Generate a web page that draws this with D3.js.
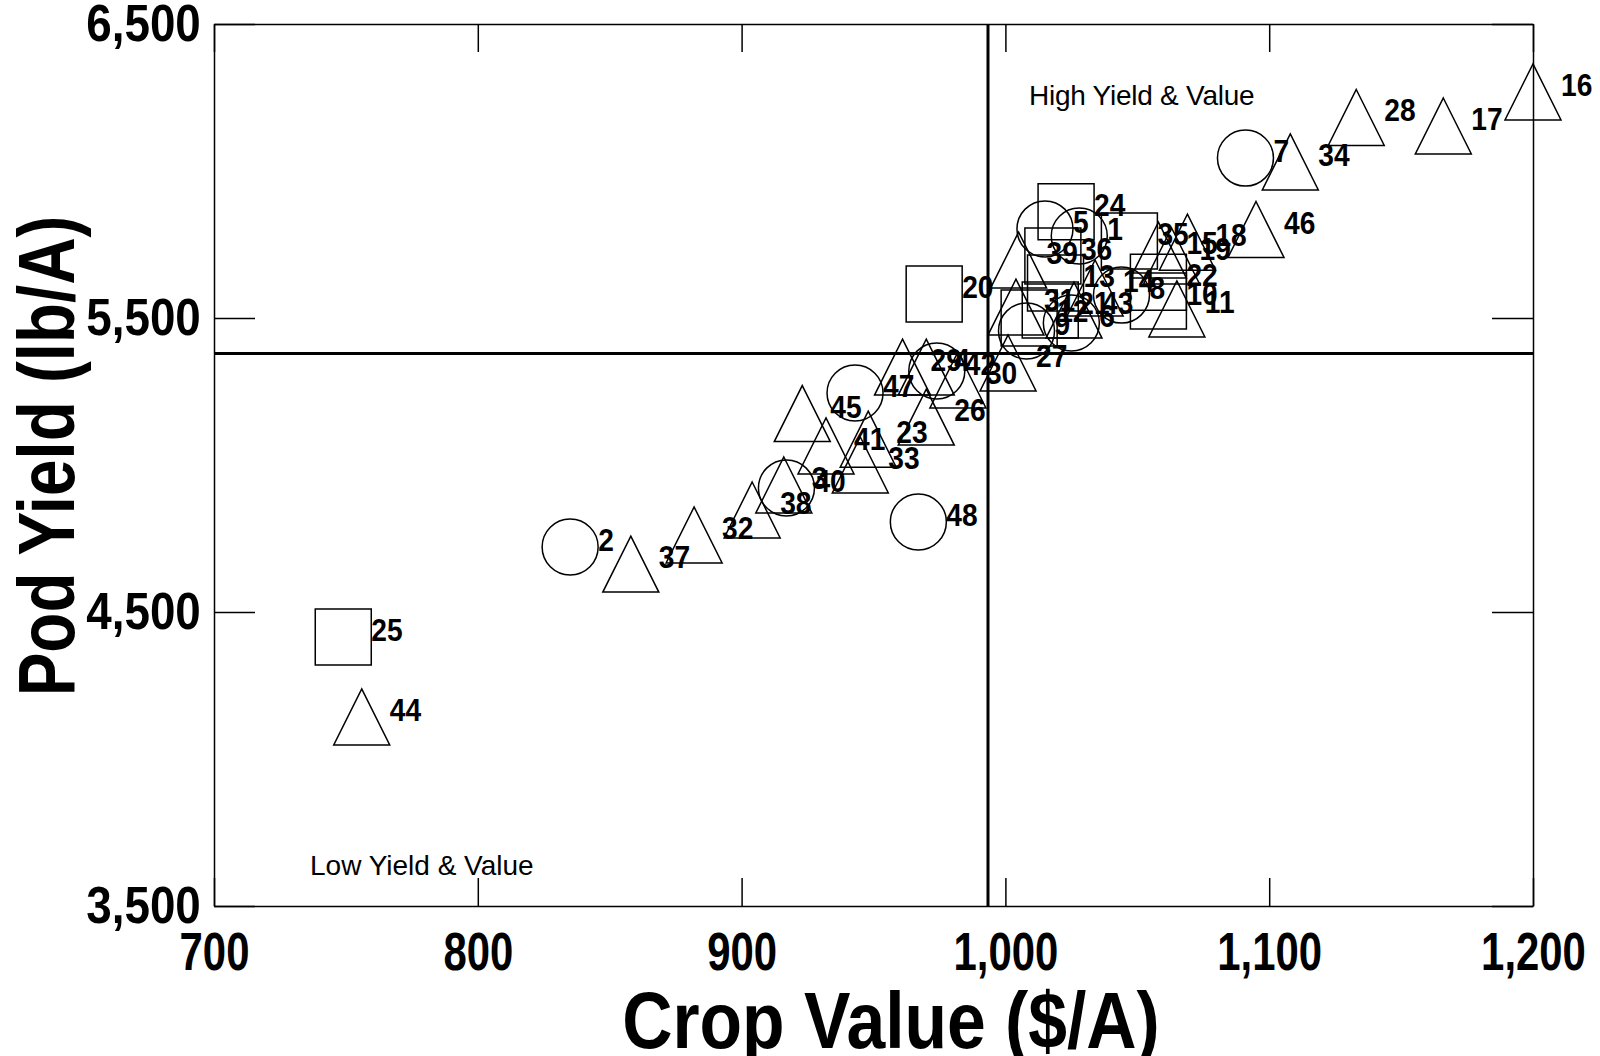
<!DOCTYPE html>
<html>
<head>
<meta charset="utf-8">
<script src="https://cdn.jsdelivr.net/npm/d3@7"></script>
<style>
  body { margin: 0; background: #fff; }
  svg { display: block; font-family: "Liberation Sans", Arial, sans-serif; }
</style>
</head>
<body>
<div class="chart"></div>
<script>
// entries, crop value ($/A), pod yield (lb/A), marker type
const entries = [1, 2, 3, 4, 5, 6, 7, 8, 9, 10, 11, 12, 13, 14, 15, 16, 17, 18, 19, 20, 21, 22, 23, 24,
  25, 26, 27, 28, 29, 30, 31, 32, 33, 34, 35, 36, 37, 38, 39, 40, 41, 42, 43, 44, 45, 46, 47, 48];
const cropValue = [1028, 835, 916, 970, 1015, 1025, 1091, 1044, 1008, 1058, 1065, 1009, 1019, 1034, 1058, 1200,
  1166, 1069, 1063, 973, 1017, 1058, 948, 1023, 749, 970, 1001, 1133, 961, 982, 1004, 882,
  945, 1108, 1047, 1018, 858, 904, 1005, 917, 932, 974, 1026, 756, 923, 1095, 943, 967];
const podYield = [5779, 4721, 4932, 5333, 5803, 5483, 6044, 5578, 5456, 5558, 5531, 5500, 5619, 5602, 5731, 6269,
  6153, 5758, 5711, 5582, 5527, 5622, 5088, 5861, 4415, 5163, 5347, 6182, 5333, 5289, 5537, 4762,
  5000, 6031, 5762, 5711, 4663, 4847, 5697, 4922, 5065, 5320, 5527, 4143, 5175, 5801, 5245, 4806];
const markerType = ['circle', 'circle', 'triangle', 'triangle', 'circle', 'circle', 'circle', 'circle', 'circle', 'square',
  'triangle', 'square', 'square', 'triangle', 'triangle', 'triangle', 'triangle', 'triangle', 'triangle', 'square',
  'square', 'square', 'triangle', 'square', 'square', 'triangle', 'triangle', 'triangle', 'triangle', 'triangle',
  'triangle', 'triangle', 'triangle', 'triangle', 'square', 'square', 'triangle', 'triangle', 'triangle', 'circle',
  'triangle', 'circle', 'triangle', 'triangle', 'triangle', 'triangle', 'circle', 'circle'];

const xTicks = [700, 800, 900, 1000, 1100, 1200];
const yTicks = [3500, 4500, 5500, 6500];
const meanValue = 993.4;
const meanYield = 5379;
const quadrantLabels = ['High Yield & Value', 'Low Yield & Value'];

const w = 1600;
const h = 1056;
const plot = { left: 214, right: 1533, top: 24, bottom: 906 };

const data = entries.map((e, i) => ({
  entry: e, value: cropValue[i], yield: podYield[i], type: markerType[i]
}));

const xScale = d3.scaleLinear().domain([700, 1200]).range([plot.left, plot.right]);
const yScale = d3.scaleLinear().domain([3500, 6500]).range([plot.bottom, plot.top]);

const svg = d3.select('.chart')
  .append('svg')
  .attr('width', w)
  .attr('height', h);

// axes, ticks point inward on every side
const fmt = d3.format(',');
svg.append('g')
  .attr('class', 'x-axis')
  .attr('transform', `translate(0, ${plot.bottom})`)
  .call(d3.axisBottom(xScale).tickValues(xTicks).tickFormat(fmt)
    .tickSizeInner(-28).tickSizeOuter(0).tickPadding(26));
svg.append('g')
  .attr('class', 'x-axis-top')
  .attr('transform', `translate(0, ${plot.top})`)
  .call(d3.axisTop(xScale).tickValues(xTicks).tickFormat('')
    .tickSizeInner(-28).tickSizeOuter(0));
svg.append('g')
  .attr('class', 'y-axis')
  .attr('transform', `translate(${plot.left}, 0)`)
  .call(d3.axisLeft(yScale).tickValues(yTicks).tickFormat(fmt)
    .tickSizeInner(-41).tickSizeOuter(0).tickPadding(15));
svg.append('g')
  .attr('class', 'y-axis-right')
  .attr('transform', `translate(${plot.right}, 0)`)
  .call(d3.axisRight(yScale).tickValues(yTicks).tickFormat('')
    .tickSizeInner(-41).tickSizeOuter(0));

svg.selectAll('.domain, .tick line')
  .attr('stroke', '#000')
  .attr('stroke-width', 1.5);

svg.selectAll('.x-axis text')
  .attr('font-family', '"Liberation Sans", Arial, sans-serif')
  .attr('font-size', 53)
  .attr('font-weight', 'bold')
  .attr('fill', '#000')
  .attr('transform', 'scale(0.79,1)');
svg.selectAll('.y-axis text')
  .attr('font-family', '"Liberation Sans", Arial, sans-serif')
  .attr('font-size', 52)
  .attr('font-weight', 'bold')
  .attr('fill', '#000')
  .attr('transform', 'scale(0.88,1)');

// mean reference lines
svg.append('line')
  .attr('x1', xScale(meanValue)).attr('x2', xScale(meanValue))
  .attr('y1', plot.top).attr('y2', plot.bottom)
  .attr('stroke', '#000').attr('stroke-width', 3);
svg.append('line')
  .attr('x1', plot.left).attr('x2', plot.right)
  .attr('y1', yScale(meanYield)).attr('y2', yScale(meanYield))
  .attr('stroke', '#000').attr('stroke-width', 3);

// open markers
const shapes = {
  circle: { draw(c, s) { const r = Math.sqrt(s) / 2; c.moveTo(r, 0); c.arc(0, 0, r, 0, 2 * Math.PI); } },
  square: { draw(c, s) { const r = Math.sqrt(s) / 2; c.rect(-r, -r, 2 * r, 2 * r); } },
  triangle: { draw(c, s) { const r = Math.sqrt(s) / 2; c.moveTo(0, -r); c.lineTo(r, r); c.lineTo(-r, r); c.closePath(); } }
};
const symbolSize = 56 * 56;

svg.append('g')
  .selectAll('path')
  .data(data)
  .join('path')
  .attr('transform', (d) => `translate(${xScale(d.value)}, ${yScale(d.yield)})`)
  .attr('d', (d) => d3.symbol().type(shapes[d.type]).size(symbolSize)())
  .attr('fill', 'none')
  .attr('stroke', '#000')
  .attr('stroke-width', 1.5);

svg.append('g')
  .selectAll('text')
  .data(data)
  .join('text')
  .attr('transform', (d) => `translate(${xScale(d.value) + 28}, ${yScale(d.yield) + 4}) scale(0.88,1)`)
  .attr('font-size', 32)
  .attr('font-weight', 'bold')
  .text((d) => d.entry);

// quadrant notes
svg.append('text')
  .attr('x', 1029).attr('y', 105)
  .attr('font-size', 28)
  .attr('letter-spacing', -0.25)
  .text(quadrantLabels[0]);
svg.append('text')
  .attr('x', 310).attr('y', 875)
  .attr('font-size', 28)
  .text(quadrantLabels[1]);

// axis titles
svg.append('text')
  .attr('transform', 'translate(891, 1048) scale(0.87,1)')
  .attr('text-anchor', 'middle')
  .attr('font-size', 80)
  .attr('font-weight', 'bold')
  .text('Crop Value ($/A)');
svg.append('text')
  .attr('transform', 'translate(74, 456) rotate(-90) scale(0.83,1)')
  .attr('text-anchor', 'middle')
  .attr('font-size', 79)
  .attr('font-weight', 'bold')
  .text('Pod Yield (lb/A)');
</script>
</body>
</html>
